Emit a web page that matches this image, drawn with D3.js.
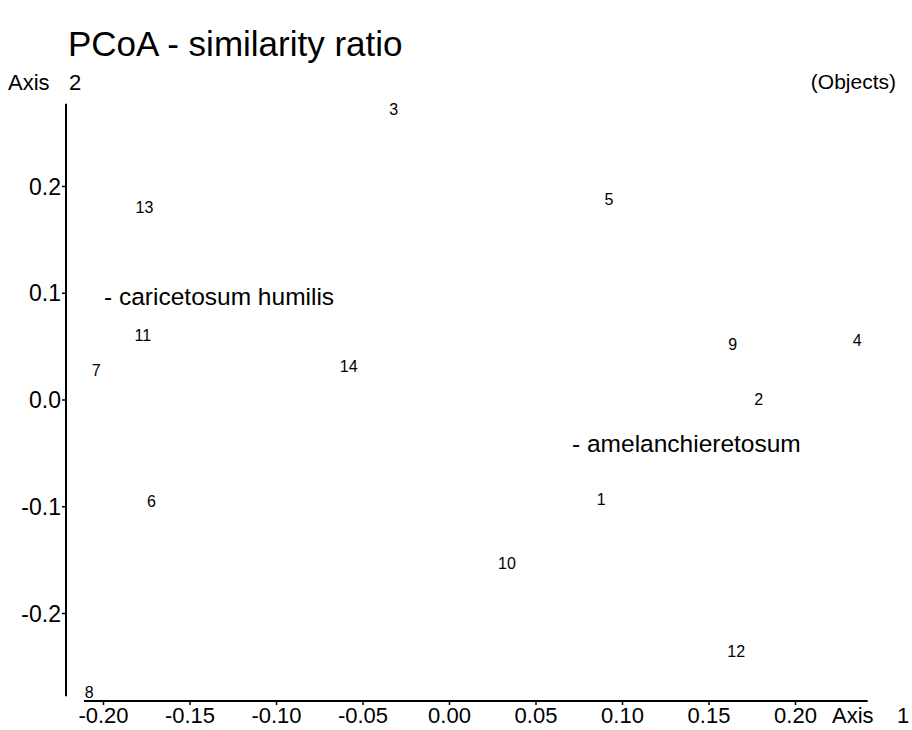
<!DOCTYPE html>
<html>
<head>
<meta charset="utf-8">
<script src="https://cdn.jsdelivr.net/npm/d3@7"></script>
<style>
  body { margin: 0; background: #fff; }
  text { font-family: "Liberation Sans", Arial, sans-serif; fill: #000; }
</style>
</head>
<body>
<svg id="chart" width="912" height="730"></svg>
<script>
// object scores on the first two PCoA axes
var objects = ['1', '2', '3', '4', '5', '6', '7', '8', '9', '10', '11', '12', '13', '14'];
var axis1 = [0.088, 0.179, -0.032, 0.236, 0.0925, -0.172, -0.204, -0.208, 0.164, 0.0335, -0.177, 0.166, -0.176, -0.058];
var axis2 = [-0.094, 0.0, 0.272, 0.055, 0.187, -0.095, 0.027, -0.274, 0.052, -0.154, 0.060, -0.236, 0.180, 0.031];

// group annotations
var groupNames = ['- caricetosum humilis', '- amelanchieretosum'];
var groupX = [-0.1994, 0.0711];
var groupY = [0.0965, -0.041];

var xTicks = [-0.20, -0.15, -0.10, -0.05, 0.00, 0.05, 0.10, 0.15, 0.20];
var yTicks = [-0.2, -0.1, 0.0, 0.1, 0.2];

var svg = d3.select('#chart');
var locale = d3.formatLocale({decimal: '.', thousands: ',', grouping: [3], currency: ['', ''], minus: '-'});

var x = d3.scaleLinear().domain([-0.2, 0.2]).range([103, 795]);
var y = d3.scaleLinear().domain([-0.2, 0.2]).range([613, 186]);

var xAxisY = 701;
var yAxisX = 66;

// axis lines (they do not meet at the corner)
svg.append('line')
    .attr('x1', yAxisX).attr('x2', yAxisX)
    .attr('y1', y(-0.278)).attr('y2', y(0.277))
    .attr('stroke', '#000').attr('stroke-width', 2);
svg.append('line')
    .attr('x1', x(-0.211)).attr('x2', x(0.242))
    .attr('y1', xAxisY).attr('y2', xAxisY)
    .attr('stroke', '#000').attr('stroke-width', 2);

var yAxis = svg.append('g')
    .attr('transform', 'translate(' + yAxisX + ',0)')
    .call(d3.axisLeft(y).tickValues(yTicks).tickSize(4).tickPadding(1)
        .tickFormat(locale.format('.1f')));
yAxis.select('.domain').remove();
yAxis.selectAll('.tick line').attr('stroke-width', 1.5);
yAxis.selectAll('.tick text').style('font-size', '23px').attr('dy', '0.35em');

var xAxis = svg.append('g')
    .attr('transform', 'translate(0,' + xAxisY + ')')
    .call(d3.axisBottom(x).tickValues(xTicks).tickSize(4).tickPadding(2)
        .tickFormat(locale.format('.2f')));
xAxis.select('.domain').remove();
xAxis.selectAll('.tick line').attr('stroke-width', 1.5);
xAxis.selectAll('.tick text').style('font-size', '22px').attr('dy', '0.72em');

// title and axis names
svg.append('text').attr('x', 68).attr('y', 56)
    .style('font-size', '35px').text('PCoA - similarity ratio');
svg.append('text').attr('x', 8).attr('y', 90)
    .style('font-size', '22px').text('Axis');
svg.append('text').attr('x', 69).attr('y', 90)
    .style('font-size', '22px').text('2');
svg.append('text').attr('x', 832).attr('y', 723)
    .style('font-size', '22px').text('Axis');
svg.append('text').attr('x', 897).attr('y', 723)
    .style('font-size', '22px').text('1');
svg.append('text').attr('x', 896).attr('y', 89)
    .attr('text-anchor', 'end')
    .style('font-size', '21px').text('(Objects)');

// object labels as markers
svg.append('g').selectAll('text')
    .data(objects)
    .enter().append('text')
    .attr('x', function(d, i) { return x(axis1[i]); })
    .attr('y', function(d, i) { return y(axis2[i]); })
    .attr('text-anchor', 'middle')
    .attr('dy', '0.35em')
    .style('font-size', '16px')
    .text(function(d) { return d; });

svg.append('g').selectAll('text')
    .data(groupNames)
    .enter().append('text')
    .attr('x', function(d, i) { return x(groupX[i]); })
    .attr('y', function(d, i) { return y(groupY[i]); })
    .attr('dy', '0.35em')
    .style('font-size', '24.5px')
    .text(function(d) { return d; });
</script>
</body>
</html>
